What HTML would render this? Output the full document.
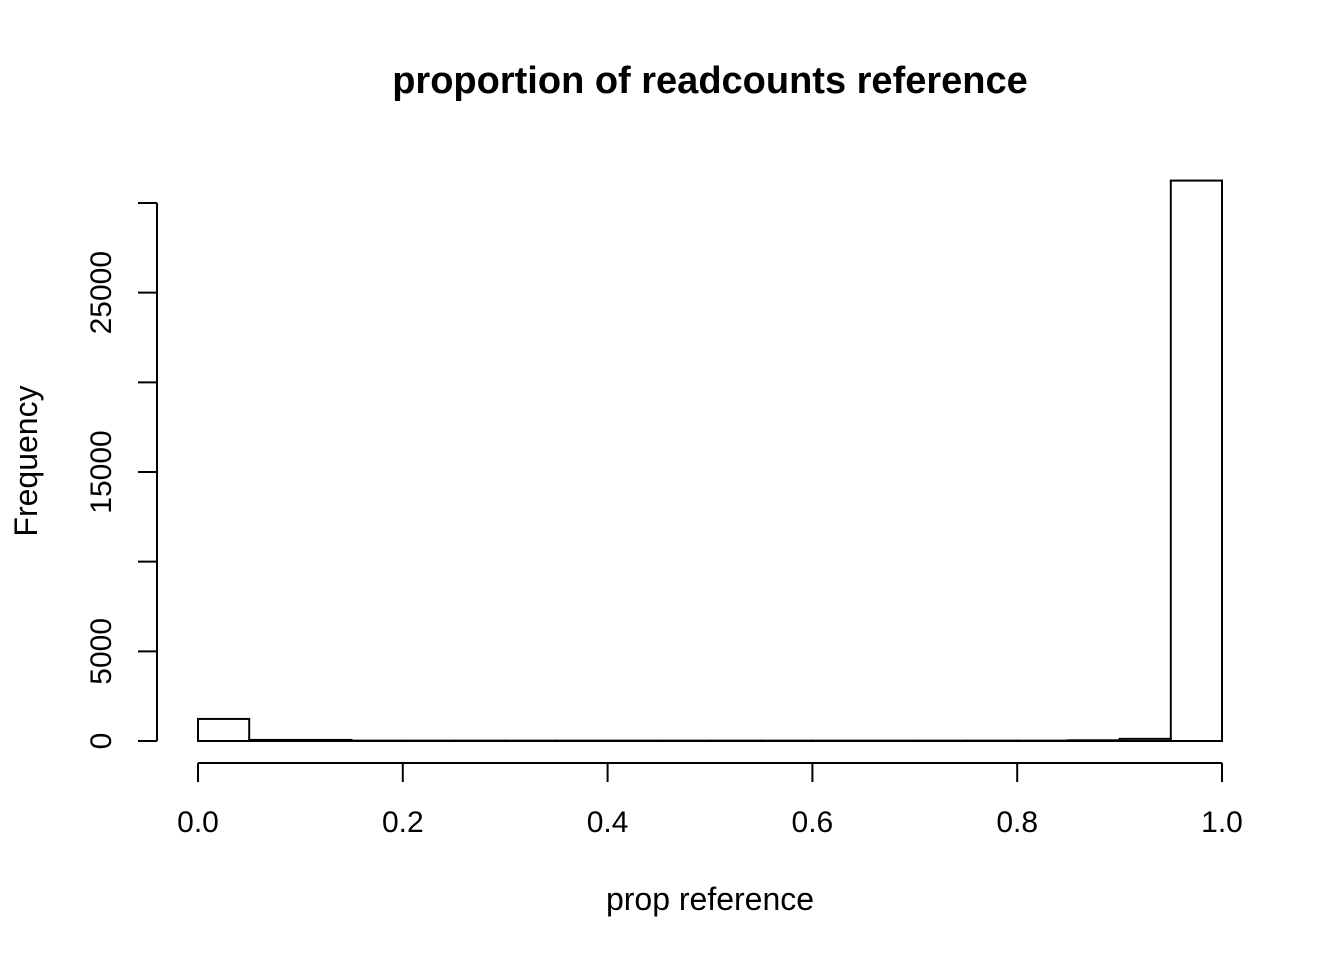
<!DOCTYPE html>
<html><head><meta charset="utf-8"><style>
body{margin:0;background:#fff}
svg text{font-family:"Liberation Sans",sans-serif;fill:#000}
</style></head><body>
<svg width="1344" height="960" viewBox="0 0 1344 960">
<text x="710" y="93" style="font-size:38px;font-weight:bold" text-anchor="middle">proportion of readcounts reference</text>
<text x="710" y="910" style="font-size:32px" text-anchor="middle">prop reference</text>
<text transform="translate(37,461) rotate(-90)" style="font-size:32px" text-anchor="middle">Frequency</text>
<g id="bars"></g>
<g id="xaxis"></g>
<g id="yaxis"></g>
</svg>
<script>
const binEdges=[0,0.05,0.1,0.15,0.2,0.25,0.3,0.35,0.4,0.45,0.5,0.55,0.6,0.65,0.7,0.75,0.8,0.85,0.9,0.95,1.0];
const counts=[1230,60,60,20,20,20,20,20,20,20,20,20,20,20,20,20,20,40,120,31250];
const xTicks=[0,0.2,0.4,0.6,0.8,1.0];
const xTickLabels=["0.0","0.2","0.4","0.6","0.8","1.0"];
const yTicks=[0,5000,10000,15000,20000,25000,30000];
const yTickLabels=["0","5000","","15000","","25000",""];
const NS="http://www.w3.org/2000/svg";
const X=v=>198+v*1024;
const Y=v=>741-v*(538/30000);
function mk(t,a,p){const e=document.createElementNS(NS,t);for(const k in a)e.setAttribute(k,a[k]);p.appendChild(e);return e;}
const bars=document.getElementById('bars');
counts.forEach((c,i)=>{
 const r=mk('rect',{x:X(binEdges[i]),y:Y(c),width:X(binEdges[i+1])-X(binEdges[i]),height:Y(0)-Y(c),fill:'none',stroke:'#000','stroke-width':2},bars);
 
 
});
const xa=document.getElementById('xaxis');
mk('line',{x1:X(0),x2:X(1),y1:763,y2:763,stroke:'#000','stroke-width':2},xa);
xTicks.forEach((t,i)=>{
 mk('line',{x1:X(t),x2:X(t),y1:763,y2:782,stroke:'#000','stroke-width':2},xa);
 const tx=mk('text',{x:X(t),y:832,style:'font-size:30px','text-anchor':'middle'},xa);
 tx.textContent=xTickLabels[i];
 
 
});
const ya=document.getElementById('yaxis');
mk('line',{x1:157,x2:157,y1:Y(0),y2:Y(30000),stroke:'#000','stroke-width':2},ya);
yTicks.forEach((t,i)=>{
 mk('line',{x1:138,x2:157,y1:Y(t),y2:Y(t),stroke:'#000','stroke-width':2},ya);
 if(yTickLabels[i]){
  const tx=mk('text',{transform:`translate(111,${Y(t)}) rotate(-90)`,style:'font-size:30px','text-anchor':'middle'},ya);
  tx.textContent=yTickLabels[i];
  
  
 }
});
</script>
</body></html>
